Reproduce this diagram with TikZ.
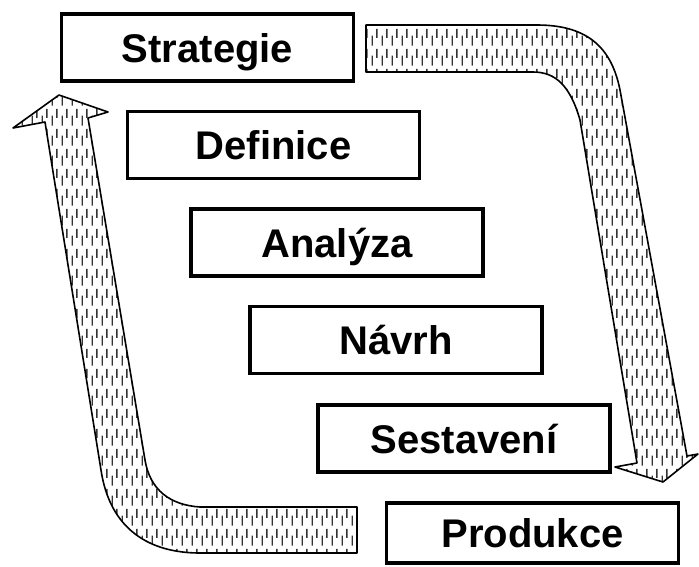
\documentclass[tikz,border=0pt]{standalone}
\usepackage{fontspec}
\setmainfont{Liberation Sans}
\usetikzlibrary{patterns,patterns.meta}
\tikzdeclarepattern{name=dashvert, type=uncolored,
  bounding box={(0pt,0pt) and (10pt,20pt)}, tile size={(10pt,20pt)},
  code={\draw[line width=1.5pt] (2.5pt,1.5pt) -- (2.5pt,12pt);
        \draw[line width=1.5pt] (7.5pt,9.5pt) -- (7.5pt,19pt);}}
\begin{document}
\begin{tikzpicture}[x=1pt,y=-1pt,
  stage/.style={draw=black, line width=3.5pt, fill=white, inner sep=0pt,
    minimum width=292pt, minimum height=67pt,
    font=\fontsize{40}{48}\selectfont\bfseries, text height=29pt, text depth=0pt},
  bigarrow/.style={draw=black, line width=1.6pt, line join=round,
    pattern=dashvert, pattern color=black!80}]
\useasboundingbox (0,0) rectangle (699,566);
% right (downward) arrow
\draw[bigarrow] (366,25) -- (537,25) .. controls (590,25) and (612,50) .. (620,90)
  -- (687,456) -- (698,454) -- (663,482) -- (615,467) -- (637,463)
  -- (580,120) .. controls (570,85) and (555,72) .. (533,72) -- (366,72) -- cycle;
% left (upward) arrow
\draw[bigarrow] (357,507) -- (200,507) .. controls (170,505) and (150,490) .. (145,460)
  -- (88,118) -- (108,112) -- (59,95) -- (13,128) -- (45,122)
  -- (101,470) .. controls (110,530) and (150,553) .. (200,553) -- (357,553) -- cycle;
% stages
\node[stage] (s1) at (207.5,47.5) {Strategie};
\node[stage] (s2) at (273.5,145) {Definice};
\node[stage] (s3) at (337,242.5) {Analýza};
\node[stage] (s4) at (396,340) {Návrh};
\node[stage] (s5) at (464,438.5) {Sestavení};
\node[stage, minimum height=60pt] (s6) at (532.5,533) {Produkce};
\end{tikzpicture}
\end{document}
